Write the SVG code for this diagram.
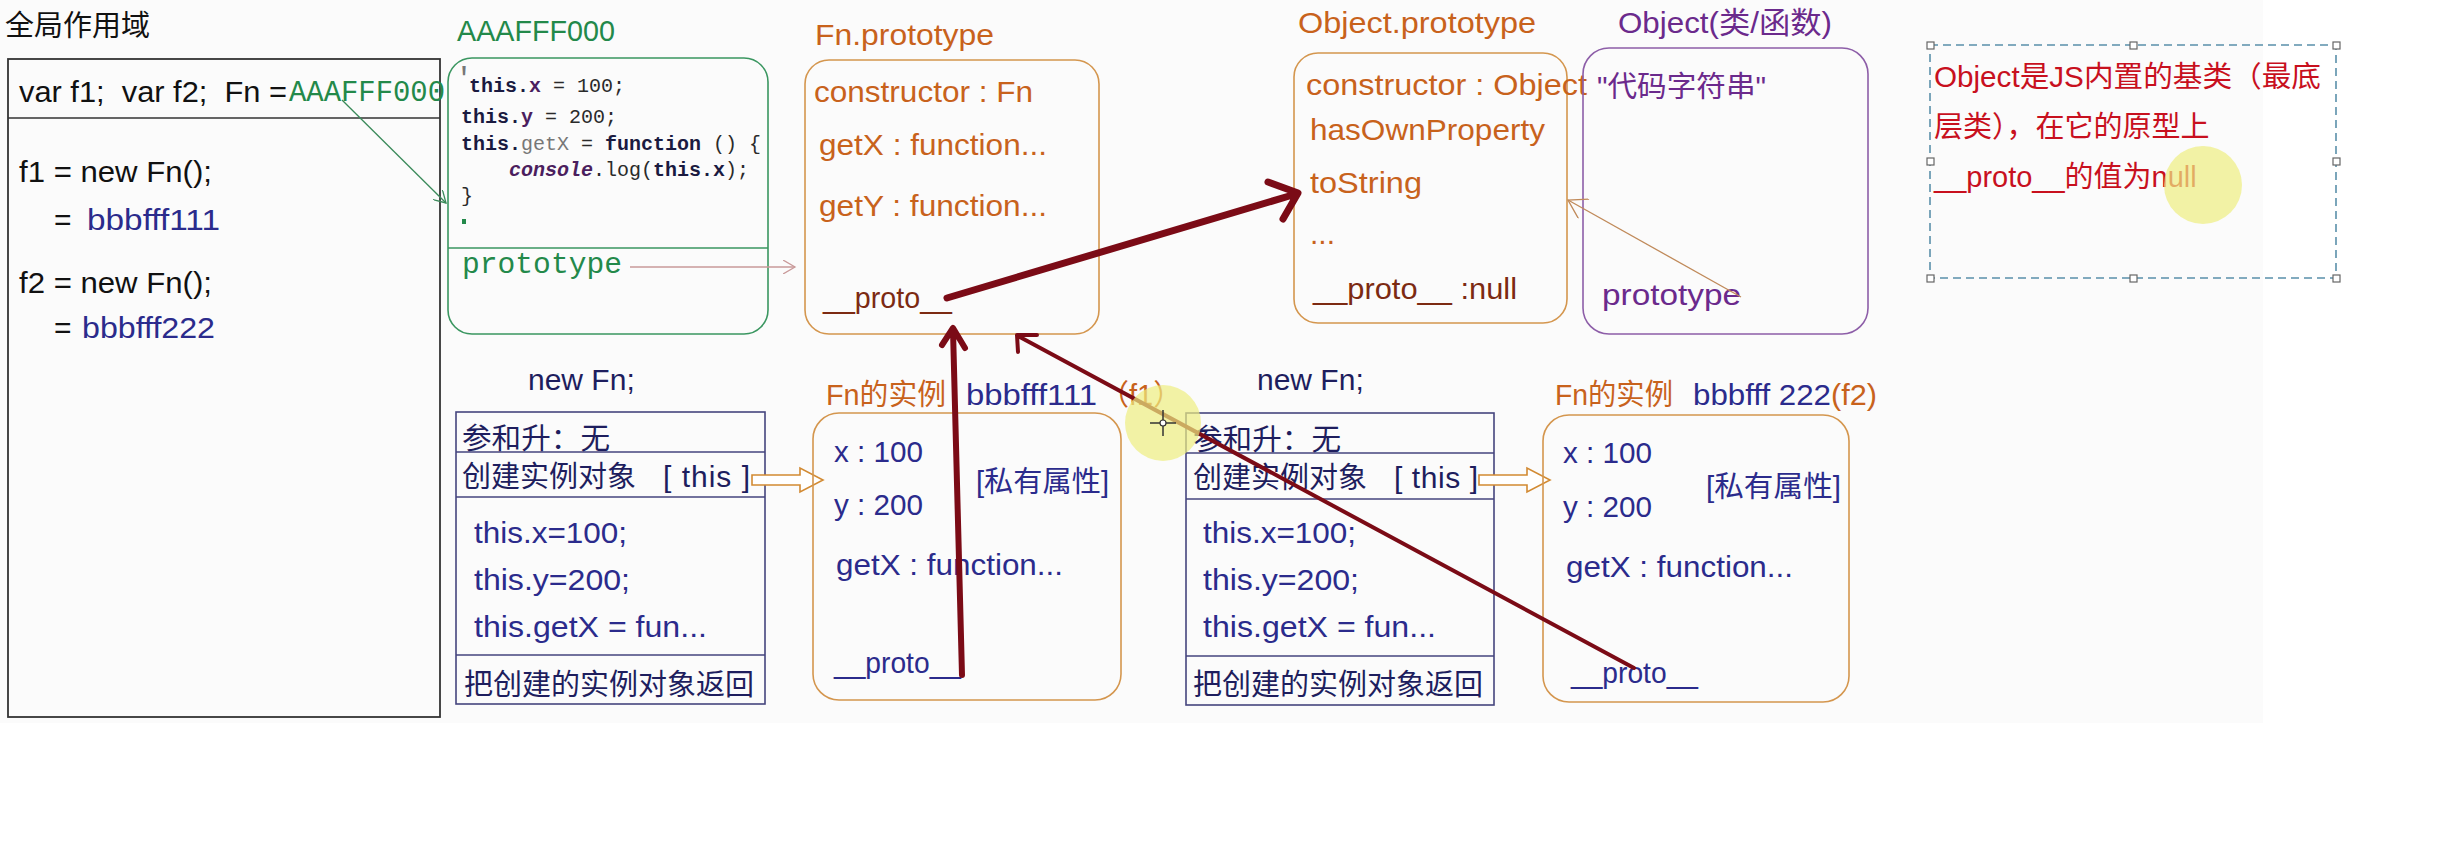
<svg xmlns="http://www.w3.org/2000/svg" width="2456" height="868" viewBox="0 0 2456 868">
<style>
text{font-family:"Liberation Sans","Noto Sans CJK SC",sans-serif;font-size:30px}
.mono{font-family:"Liberation Mono","DejaVu Sans Mono",monospace}
.cj{font-size:29px}
.blk{fill:#111111}
.nav{fill:#2b2b8c}
.dnav{fill:#1e1e5e}
.org{fill:#c8621c}
.brn{fill:#7c2a12}
.grn{fill:#23894a}
.pur{fill:#6b2a8c}
.red{fill:#c8101e}
.obox{fill:none;stroke:#d4964e;stroke-width:1.6}
.nbox{fill:none;stroke:#45457e;stroke-width:1.6}
.gbox{fill:none;stroke:#3a9660;stroke-width:1.6}
.pbox{fill:none;stroke:#8d5ea8;stroke-width:1.6}
.big{fill:none;stroke:#7b0b16;stroke-linecap:round;stroke-linejoin:round}
.hol{fill:#ffffff;stroke:#d28a32;stroke-width:1.6}
.code{font-size:20px;fill:#2a2a2a}
.kw{font-weight:bold;fill:#1a1a40}
.pk{font-weight:bold;fill:#4b1e5e}
.gy{fill:#777777}
.hl{fill:#eeee80;opacity:0.7}
.hd{fill:#ffffff;stroke:#666666;stroke-width:1.2}
</style>
<defs>
<marker id="ag" markerWidth="14" markerHeight="14" refX="12" refY="7" orient="auto" markerUnits="userSpaceOnUse"><path d="M0,0 L12,7 L0,14" fill="none" stroke="#3a8a5a" stroke-width="1.3"/></marker>
<marker id="ap" markerWidth="14" markerHeight="14" refX="12" refY="7" orient="auto" markerUnits="userSpaceOnUse"><path d="M0,0 L12,7 L0,14" fill="none" stroke="#c99a9a" stroke-width="1.3"/></marker>
<marker id="ao" markerWidth="22" markerHeight="22" refX="20" refY="11" orient="auto" markerUnits="userSpaceOnUse"><path d="M2,0 L20,11 L2,22" fill="none" stroke="#c08a5a" stroke-width="1.3"/></marker>
</defs>
<rect x="0" y="0" width="2263" height="723" fill="#fbfbfb"/>

<g id="global-scope">
<text x="5" y="36" class="blk cj">全局作用域</text>
<rect x="8" y="59" width="432" height="658" fill="none" stroke="#333333" stroke-width="1.8"/>
<line x1="8" y1="118" x2="440" y2="118" stroke="#333333" stroke-width="1.5"/>
<text x="19" y="102" class="blk" xml:space="preserve" textLength="268" lengthAdjust="spacingAndGlyphs">var f1;  var f2;  Fn =</text>
<text x="289" y="101" class="mono grn" font-size="26" textLength="156" lengthAdjust="spacingAndGlyphs">AAAFFF000</text>
<text x="19" y="182" class="blk" textLength="193" lengthAdjust="spacingAndGlyphs">f1 = new Fn();</text>
<text x="54" y="230" class="blk">=</text>
<text x="87" y="230" class="nav" textLength="133" lengthAdjust="spacingAndGlyphs">bbbfff111</text>
<text x="19" y="293" class="blk" textLength="193" lengthAdjust="spacingAndGlyphs">f2 = new Fn();</text>
<text x="54" y="338" class="blk">=</text>
<text x="82" y="338" class="nav" textLength="133" lengthAdjust="spacingAndGlyphs">bbbfff222</text>
</g>

<g id="fn-function">
<text x="457" y="41" class="grn" textLength="158" lengthAdjust="spacingAndGlyphs">AAAFFF000</text>
<rect x="448" y="58" width="320" height="276" rx="24" class="gbox"/>
<line x1="448" y1="248" x2="768" y2="248" stroke="#3a9660" stroke-width="1.6"/>
<text x="455" y="88" class="mono gy" font-size="13">'</text>
<text x="469" y="92" class="mono code"><tspan class="kw">this.</tspan><tspan class="pk">x</tspan> = 100;</text>
<text x="461" y="123" class="mono code"><tspan class="kw">this.</tspan><tspan class="pk">y</tspan> = 200;</text>
<text x="461" y="150" class="mono code"><tspan class="kw">this.</tspan><tspan class="gy">getX</tspan> = <tspan class="kw">function</tspan> () {</text>
<text x="509" y="176" class="mono code"><tspan class="pk" font-style="italic">console</tspan>.log(<tspan class="kw">this.x</tspan>);</text>
<text x="461" y="202" class="mono code">}</text>
<rect x="462" y="219" width="4" height="5" fill="#23894a"/>
<text x="462" y="273" class="mono grn" font-size="26" textLength="160" lengthAdjust="spacingAndGlyphs">prototype</text>
</g>

<g id="fn-prototype">
<text x="815" y="45" class="org" textLength="179" lengthAdjust="spacingAndGlyphs">Fn.prototype</text>
<rect x="805" y="60" width="294" height="274" rx="24" class="obox"/>
<text x="814" y="102" class="org" textLength="219" lengthAdjust="spacingAndGlyphs">constructor : Fn</text>
<text x="819" y="155" class="org" textLength="228" lengthAdjust="spacingAndGlyphs">getX : function...</text>
<text x="819" y="216" class="org" textLength="228" lengthAdjust="spacingAndGlyphs">getY : function...</text>
<text x="823" y="308" class="brn" textLength="129" lengthAdjust="spacingAndGlyphs">__proto__</text>
</g>

<g id="object-prototype">
<text x="1298" y="33" class="org" textLength="238" lengthAdjust="spacingAndGlyphs">Object.prototype</text>
<rect x="1294" y="53" width="273" height="270" rx="24" class="obox"/>
<text x="1306" y="95" class="org" textLength="281" lengthAdjust="spacingAndGlyphs">constructor : Object</text>
<text x="1310" y="140" class="org" textLength="235" lengthAdjust="spacingAndGlyphs">hasOwnProperty</text>
<text x="1310" y="193" class="org" textLength="112" lengthAdjust="spacingAndGlyphs">toString</text>
<text x="1310" y="244" class="org">...</text>
<text x="1313" y="299" class="brn" textLength="204" lengthAdjust="spacingAndGlyphs">__proto__ :null</text>
</g>

<g id="object-function">
<text x="1618" y="33" class="pur" textLength="214" lengthAdjust="spacingAndGlyphs">Object(类/函数)</text>
<rect x="1583" y="48" width="285" height="286" rx="26" class="pbox"/>
<text x="1597" y="97" class="pur cj" textLength="169" lengthAdjust="spacingAndGlyphs">"代码字符串"</text>
<text x="1602" y="305" class="pur" textLength="139" lengthAdjust="spacingAndGlyphs">prototype</text>
</g>

<g id="note">
<rect x="1930" y="45" width="406" height="233" fill="none" stroke="#5a90aa" stroke-width="1.6" stroke-dasharray="8 5"/>
<rect x="1927" y="42" width="7" height="7" class="hd"/>
<rect x="2130" y="42" width="7" height="7" class="hd"/>
<rect x="2333" y="42" width="7" height="7" class="hd"/>
<rect x="1927" y="158" width="7" height="7" class="hd"/>
<rect x="2333" y="158" width="7" height="7" class="hd"/>
<rect x="1927" y="275" width="7" height="7" class="hd"/>
<rect x="2130" y="275" width="7" height="7" class="hd"/>
<rect x="2333" y="275" width="7" height="7" class="hd"/>
<text x="1934" y="87" class="red cj" textLength="387" lengthAdjust="spacingAndGlyphs">Object是JS内置的基类（最底</text>
<text x="1934" y="137" class="red cj">层类），在它的原型上</text>
<text x="1934" y="187" class="red cj">__proto__的值为null</text>
<circle cx="2203" cy="185" r="39" class="hl"/>
</g>

<g id="new-fn-1">
<text x="528" y="390" class="dnav">new Fn;</text>
<rect x="456" y="412" width="309" height="292" class="nbox"/>
<line x1="456" y1="452" x2="765" y2="452" stroke="#45457e" stroke-width="1.6"/>
<line x1="456" y1="497" x2="765" y2="497" stroke="#45457e" stroke-width="1.6"/>
<line x1="456" y1="655" x2="765" y2="655" stroke="#45457e" stroke-width="1.6"/>
<text x="462" y="449" class="dnav cj" textLength="148" lengthAdjust="spacingAndGlyphs">参和升：无</text>
<text x="462" y="487" class="dnav cj">创建实例对象</text>
<text x="663" y="487" class="dnav" textLength="87">[ this ]</text>
<text x="474" y="543" class="nav" textLength="153" lengthAdjust="spacingAndGlyphs">this.x=100;</text>
<text x="474" y="590" class="nav" textLength="156" lengthAdjust="spacingAndGlyphs">this.y=200;</text>
<text x="474" y="637" class="nav" textLength="233" lengthAdjust="spacingAndGlyphs">this.getX = fun...</text>
<text x="464" y="695" class="dnav cj">把创建的实例对象返回</text>
<path d="M752,475 H800 V468 L823,480 L800,492 V485 H752 Z" class="hol"/>
</g>

<g id="instance-f1">
<text x="826" y="405" class="org cj" textLength="120" lengthAdjust="spacingAndGlyphs">Fn的实例</text>
<text x="966" y="405" class="nav" textLength="131" lengthAdjust="spacingAndGlyphs">bbbfff111</text>
<text x="1100" y="405" class="org cj">（f1）</text>
<rect x="813" y="413" width="308" height="287" rx="26" class="obox"/>
<text x="834" y="462" class="nav" textLength="89" lengthAdjust="spacingAndGlyphs">x : 100</text>
<text x="976" y="492" class="nav cj" textLength="133" lengthAdjust="spacingAndGlyphs">[私有属性]</text>
<text x="834" y="515" class="nav" textLength="89" lengthAdjust="spacingAndGlyphs">y : 200</text>
<text x="836" y="575" class="nav" textLength="227" lengthAdjust="spacingAndGlyphs">getX : function...</text>
<text x="834" y="673" class="nav" font-size="28" textLength="127" lengthAdjust="spacingAndGlyphs">__proto__</text>
</g>

<g id="new-fn-2">
<text x="1257" y="390" class="dnav">new Fn;</text>
<rect x="1186" y="413" width="308" height="292" class="nbox"/>
<line x1="1186" y1="453" x2="1494" y2="453" stroke="#45457e" stroke-width="1.6"/>
<line x1="1186" y1="499" x2="1494" y2="499" stroke="#45457e" stroke-width="1.6"/>
<line x1="1186" y1="656" x2="1494" y2="656" stroke="#45457e" stroke-width="1.6"/>
<text x="1193" y="450" class="dnav cj" textLength="148" lengthAdjust="spacingAndGlyphs">参和升：无</text>
<text x="1193" y="488" class="dnav cj">创建实例对象</text>
<text x="1394" y="488" class="dnav" textLength="84">[ this ]</text>
<text x="1203" y="543" class="nav" textLength="153" lengthAdjust="spacingAndGlyphs">this.x=100;</text>
<text x="1203" y="590" class="nav" textLength="156" lengthAdjust="spacingAndGlyphs">this.y=200;</text>
<text x="1203" y="637" class="nav" textLength="233" lengthAdjust="spacingAndGlyphs">this.getX = fun...</text>
<text x="1193" y="695" class="dnav cj">把创建的实例对象返回</text>
<path d="M1479,475 H1527 V468 L1550,480 L1527,492 V485 H1479 Z" class="hol"/>
</g>

<g id="instance-f2">
<text x="1555" y="405" class="org cj" textLength="118" lengthAdjust="spacingAndGlyphs">Fn的实例</text>
<text x="1693" y="405" class="nav" textLength="138" lengthAdjust="spacingAndGlyphs">bbbfff 222</text>
<text x="1831" y="405" class="org" textLength="46" lengthAdjust="spacingAndGlyphs">(f2)</text>
<rect x="1543" y="415" width="306" height="287" rx="26" class="obox"/>
<text x="1563" y="463" class="nav" textLength="89" lengthAdjust="spacingAndGlyphs">x : 100</text>
<text x="1706" y="497" class="nav cj" textLength="135" lengthAdjust="spacingAndGlyphs">[私有属性]</text>
<text x="1563" y="517" class="nav" textLength="89" lengthAdjust="spacingAndGlyphs">y : 200</text>
<text x="1566" y="577" class="nav" textLength="227" lengthAdjust="spacingAndGlyphs">getX : function...</text>
<text x="1571" y="683" class="nav" font-size="28" textLength="127" lengthAdjust="spacingAndGlyphs">__proto__</text>
</g>

<g id="connectors">
<line x1="342" y1="100" x2="446" y2="203" stroke="#3a8a5a" stroke-width="1.3" marker-end="url(#ag)"/>
<line x1="630" y1="267" x2="795" y2="267" stroke="#c99a9a" stroke-width="1.3" marker-end="url(#ap)"/>
<line x1="1741" y1="297" x2="1568" y2="200" stroke="#c08a5a" stroke-width="1.3" marker-end="url(#ao)"/>
<path d="M947,298 L1296,194 M1268,182 L1298,193 L1283,219" class="big" stroke-width="7"/>
<path d="M962,675 L953,330 M942,345 L953,328 L965,348" class="big" stroke-width="6"/>
<path d="M1634,668 L1018,336 M1037,335 L1017,335 L1018,352" class="big" stroke-width="4"/>
</g>

<g id="cursor">
<circle cx="1163" cy="423" r="38" class="hl"/>
<line x1="1150" y1="423" x2="1176" y2="423" stroke="#333333" stroke-width="1.5"/>
<line x1="1163" y1="410" x2="1163" y2="436" stroke="#333333" stroke-width="1.5"/>
<circle cx="1163" cy="423" r="3" fill="#ffffff" stroke="#333333" stroke-width="1.2"/>
</g>
</svg>
